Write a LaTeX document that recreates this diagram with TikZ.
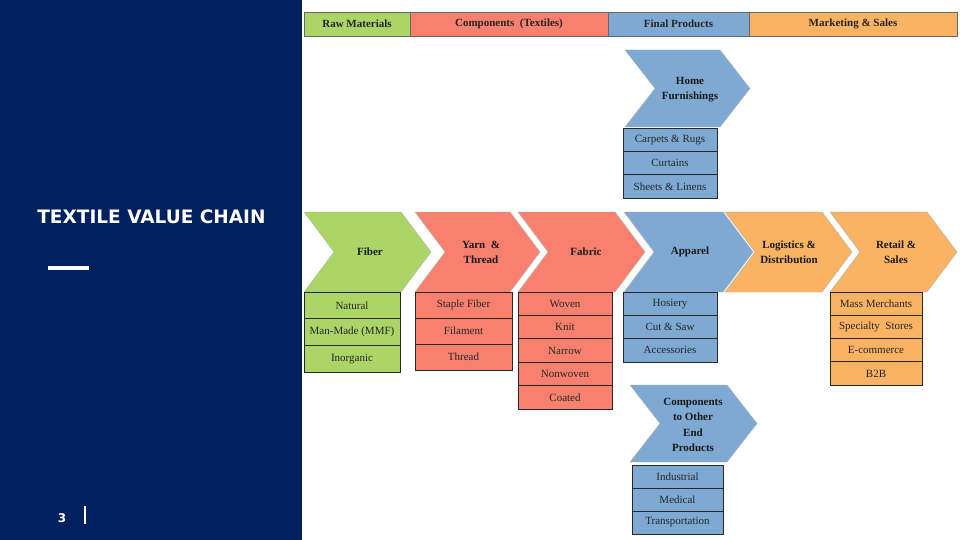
\documentclass[tikz,border=0pt]{standalone}
\usepackage{fontspec}
\setmainfont{Liberation Serif}
\newfontfamily\titlefont{DejaVu Sans}
\definecolor{navy}{RGB}{0,32,96}
\definecolor{cgreen}{RGB}{172,213,104}
\definecolor{csalmon}{RGB}{247,128,111}
\definecolor{cblue}{RGB}{125,169,210}
\definecolor{corange}{RGB}{249,179,98}
\definecolor{edge}{RGB}{40,40,40}
\tikzset{
  hdr/.style={draw=edge!70, line width=0.6pt, minimum height=24pt, inner sep=0pt, outer sep=0pt, font=\fontsize{11}{12}\selectfont\bfseries, text=black!85},
  cbox/.style={draw=edge, line width=0.8pt, inner sep=0pt, outer sep=0pt, font=\fontsize{11}{12}\selectfont, text=black!85},
  clabel/.style={align=center, font=\fontsize{11}{15}\selectfont\bfseries, text=black!90, inner sep=0pt},
  chevshape/.style={draw=gray!60, line width=0.4pt}
}
\newcommand\chev[5]{%
  \filldraw[chevshape, fill=#5] (#1,#3) -- ({#2-30},#3) -- (#2,{(#3+#4)/2}) -- ({#2-30},#4) -- (#1,#4) -- ({#1+30},{(#3+#4)/2}) -- cycle;}
\begin{document}
\begin{tikzpicture}[x=1pt,y=-1pt]
\useasboundingbox (0,0) rectangle (960,540);
\fill[white] (0,0) rectangle (960,540);
% left panel
\fill[navy] (0,0) rectangle (302,540);
\node[text=white, font=\titlefont\fontsize{18.5}{20}\selectfont\bfseries, inner sep=0pt] (title) at (151.5,217) {TEXTILE VALUE CHAIN};
\fill[white] (48,266) rectangle (89,270);
\node[text=white, font=\titlefont\fontsize{12}{14}\selectfont\bfseries, inner sep=0pt] (pnum) at (62,518) {3};
\draw[white, line width=1.3pt] (85,506) -- (85,524);
% header
\node[hdr, fill=cgreen, minimum width=106pt] (h1) at (357,24) {Raw Materials};
\node[hdr, fill=csalmon, minimum width=198pt] (h2) at (509,24) {Components \ (Textiles)};
\node[hdr, fill=cblue, minimum width=141pt] (h3) at (678.5,24) {Final Products};
\node[hdr, fill=corange, minimum width=208pt] (h4) at (853,24) {Marketing \& Sales};
% chevrons main row
\chev{304}{431}{212}{292}{cgreen}
\chev{415}{540}{212}{292}{csalmon}
\chev{518}{645}{212}{292}{csalmon}
\chev{624}{753}{212}{292}{cblue}
\chev{725}{852}{212}{292}{corange}
\chev{830}{957}{212}{292}{corange}
\chev{625}{750}{50}{127}{cblue}
\chev{630}{757}{385}{462}{cblue}
\node[clabel] (fiber) at (370,252) {Fiber};
\node[clabel] (yarn) at (481,252) {Yarn \ \&\\Thread};
\node[clabel] (fabric) at (586,252) {Fabric};
\node[clabel] (apparel) at (690,252) {Apparel};
\node[clabel] (logi) at (789,252) {Logistics \&\\Distribution};
\node[clabel] (retail) at (896,252) {Retail \&\\Sales};
\node[clabel] (home) at (690,90) {Home\\Furnishings};
\node[clabel, font=\fontsize{11}{15.5}\selectfont\bfseries] (comp) at (693,425) {Components\\to Other\\End\\Products};
% fiber boxes
\begin{scope}[every node/.style={cbox, fill=cgreen, minimum width=96pt, minimum height=26.7pt}]
\node (f1) at (352,305.3) {Natural};
\node (f2) at (352,332) {Man-Made (MMF)};
\node (f3) at (352,358.7) {Inorganic};
\end{scope}
\begin{scope}[every node/.style={cbox, fill=csalmon, minimum width=97pt, minimum height=26pt}]
\node (y1) at (463.5,305) {Staple Fiber};
\node (y2) at (463.5,331) {Filament};
\node (y3) at (463.5,357) {Thread};
\end{scope}
\begin{scope}[every node/.style={cbox, fill=csalmon, minimum width=94pt, minimum height=23.4pt}]
\node (b1) at (565,303.7) {Woven};
\node (b2) at (565,327.1) {Knit};
\node (b3) at (565,350.5) {Narrow};
\node (b4) at (565,373.9) {Nonwoven};
\node (b5) at (565,397.3) {Coated};
\end{scope}
\begin{scope}[every node/.style={cbox, fill=cblue, minimum width=94pt, minimum height=23.3pt}]
\node (a1) at (670,303.7) {Hosiery};
\node (a2) at (670,327) {Cut \& Saw};
\node (a3) at (670,350.3) {Accessories};
\node (m1) at (670,139.7) {Carpets \& Rugs};
\node (m2) at (670,163) {Curtains};
\node (m3) at (670,186.3) {Sheets \& Linens};
\end{scope}
\begin{scope}[every node/.style={cbox, fill=cblue, minimum width=91pt, minimum height=23pt}]
\node (c1) at (677.5,476.5) {Industrial};
\node (c2) at (677.5,499.5) {Medical};
\node (c3) at (677.5,522.5) {Transportation};
\end{scope}
\begin{scope}[every node/.style={cbox, fill=corange, minimum width=92pt, minimum height=23.25pt}]
\node (r1) at (876,303.6) {Mass Merchants};
\node (r2) at (876,326.9) {Specialty \ Stores};
\node (r3) at (876,350.1) {E-commerce};
\node (r4) at (876,373.4) {B2B};
\end{scope}
\end{tikzpicture}
\end{document}
